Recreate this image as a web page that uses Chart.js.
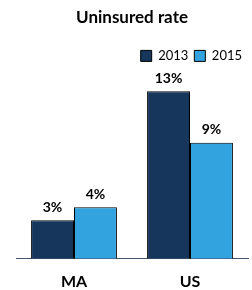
<!DOCTYPE html>
<html>
<head>
<meta charset="utf-8">
<script src="https://cdn.jsdelivr.net/npm/chart.js@4"></script>
<style>
    html, body { margin: 0; padding: 0; background: #fff; }
    #wrap { width: 252px; height: 290px; }
</style>
</head>
<body>
<div id="wrap"><canvas id="rateChart" width="252" height="290"></canvas></div>
<script>
// Chart data
const regions = ['MA', 'US'];
const years = ['2013', '2015'];
const rate2013 = [3, 13];
const rate2015 = [4, 9];
const yearColors = ['#16365c', '#33a3e0'];

// Draw "x%" above each bar
const valueLabels = {
    id: 'valueLabels',
    afterDatasetsDraw(chart) {
        const ctx = chart.ctx;
        ctx.save();
        ctx.font = 'bold 14px Lato';
        ctx.fillStyle = '#000';
        ctx.textAlign = 'center';
        ctx.textBaseline = 'bottom';
        chart.data.datasets.forEach((ds, i) => {
            chart.getDatasetMeta(i).data.forEach((bar, j) => {
                ctx.fillText(ds.data[j] + '%', bar.x, bar.y - 6);
            });
        });
        ctx.restore();
    }
};

const ctx = document.getElementById('rateChart').getContext('2d');
new Chart(ctx, {
    type: 'bar',
    data: {
        labels: regions,
        datasets: [
            { label: years[0], data: rate2013, backgroundColor: yearColors[0] },
            { label: years[1], data: rate2015, backgroundColor: yearColors[1] }
        ]
    },
    options: {
        responsive: false,
        animation: false,
        datasets: {
            bar: {
                borderColor: '#000',
                borderWidth: 1,
                categoryPercentage: 0.74,
                barPercentage: 1
            }
        },
        layout: { padding: { left: 16, right: 4, bottom: -14 } },
        plugins: {
            title: {
                display: true,
                text: 'Uninsured rate',
                fullSize: false,
                color: '#000',
                font: { family: 'Lato', size: 17, weight: 'bold' },
                padding: { top: 7, bottom: 16 }
            },
            legend: {
                align: 'end',
                fullSize: false,
                labels: {
                    color: '#000',
                    boxWidth: 11,
                    boxHeight: 11,
                    padding: 6,
                    font: { family: 'Lato', size: 13 }
                }
            },
            tooltip: { enabled: false }
        },
        scales: {
            x: {
                grid: { display: false, drawTicks: false },
                border: { color: '#44546a', width: 1 },
                ticks: {
                    color: '#000',
                    padding: 13,
                    font: { family: 'Lato', size: 16, weight: 'bold' }
                }
            },
            y: {
                display: false,
                min: 0,
                max: 14.47
            }
        }
    },
    plugins: [valueLabels]
});
</script>
</body>
</html>
